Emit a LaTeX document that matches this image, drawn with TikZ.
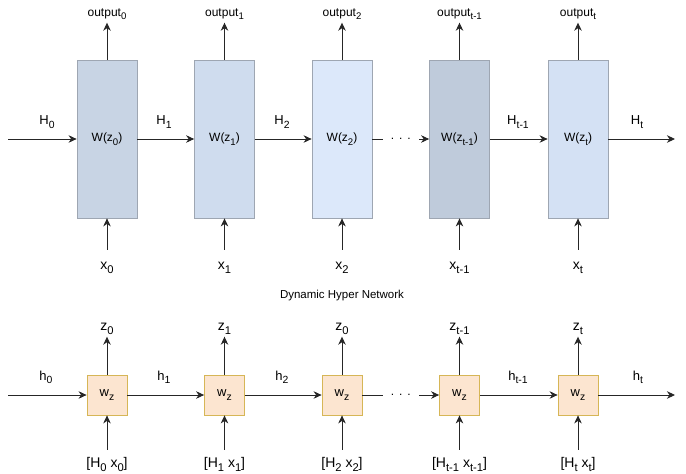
\documentclass[tikz,border=0pt]{standalone}
\usepackage{fontspec}
\setmainfont{Liberation Sans}
\usepackage{graphicx}
\usetikzlibrary{arrows.meta}
\definecolor{bA}{RGB}{200,212,228}
\definecolor{bB}{RGB}{207,220,238}
\definecolor{bC}{RGB}{220,232,250}
\definecolor{bD}{RGB}{191,203,219}
\definecolor{bE}{RGB}{212,225,244}
\definecolor{bordg}{RGB}{158,166,178}
\definecolor{yfill}{RGB}{252,229,208}
\definecolor{ybord}{RGB}{214,182,86}
\newcommand{\sbs}[1]{\raisebox{-0.3em}{\scalebox{0.8}{#1}}}
\newcommand{\fs}[1]{\fontsize{#1}{#1}\selectfont}
\newcommand{\dotstr}{.\hspace{5pt}.\hspace{5pt}.}
\begin{document}
\begin{tikzpicture}[x=1pt,y=-1pt,
  every node/.style={inner sep=0pt},
  bigbox/.style={draw=bordg, line width=0.8pt, minimum width=60pt, minimum height=158pt, font=\fs{12}},
  smallbox/.style={draw=ybord, fill=yfill, line width=0.8pt, minimum width=40pt, minimum height=40pt, font=\fs{13}},
  conn/.style={draw=black!85, line width=0.9pt, -{Stealth[length=8pt,width=7.5pt,inset=2.5pt]}},
  outlbl/.style={anchor=base, font=\fs{12}, text depth=3pt},
  inlbl/.style={anchor=base, font=\fs{14}, text height=8pt},
  Hlbl/.style={anchor=base, font=\fs{13}},
  zlbl/.style={anchor=base, font=\fs{14}, text depth=2pt},
  blbl/.style={anchor=base, font=\fs{14}, text height=10pt},
  gapdots/.style={fill=white, inner xsep=8pt, inner ysep=2pt, font=\fs{12}}]
\useasboundingbox (0,0) rectangle (686,474);

% ---------- top row ----------
\node[bigbox, fill=bA] (W0) at (107,139) {W(z\sbs{0})};
\node[bigbox, fill=bB] (W1) at (224.5,139) {W(z\sbs{1})};
\node[bigbox, fill=bC] (W2) at (342,139) {W(z\sbs{2})};
\node[bigbox, fill=bD] (W3) at (459.5,139) {W(z\sbs{t-1})};
\node[bigbox, fill=bE] (W4) at (578,139) {W(z\sbs{t})};

\coordinate (tin) at (8,139);
\coordinate (tout) at (675,139);
\draw[conn] (tin) -- (W0);
\draw[conn] (W0) -- (W1);
\draw[conn] (W1) -- (W2);
\draw[conn] (W2) -- node[gapdots] (d1) {\dotstr} (W3);
\draw[conn] (W3) -- (W4);
\draw[conn] (W4) -- (tout);

\node[Hlbl] (H0) at (47,124.5) {H\sbs{0}};
\node[Hlbl] (H1) at (164,124.5) {H\sbs{1}};
\node[Hlbl] (H2) at (282,124.5) {H\sbs{2}};
\node[Hlbl] (H3) at (518,124.5) {H\sbs{t-1}};
\node[Hlbl] (H4) at (637,124.5) {H\sbs{t}};

\node[outlbl] (o0) at (107,16) {output\sbs{0}};
\node[outlbl] (o1) at (224.5,16) {output\sbs{1}};
\node[outlbl] (o2) at (342,16) {output\sbs{2}};
\node[outlbl] (o3) at (459.5,16) {output\sbs{t-1}};
\node[outlbl] (o4) at (578,16) {output\sbs{t}};
\foreach \i in {0,...,4} {\draw[conn, shorten >=3.5pt] (W\i) -- (o\i);}

\node[inlbl] (x0) at (107,269) {x\sbs{0}};
\node[inlbl] (x1) at (224.5,269) {x\sbs{1}};
\node[inlbl] (x2) at (342,269) {x\sbs{2}};
\node[inlbl] (x3) at (459.5,269) {x\sbs{t-1}};
\node[inlbl] (x4) at (578,269) {x\sbs{t}};
\foreach \i in {0,...,4} {\draw[conn, shorten <=11pt] (x\i) -- (W\i);}

\node[font=\fs{11.5}] (title) at (342,296) {Dynamic Hyper Network};

% ---------- bottom row ----------
\node[smallbox] (w0) at (107,395) {w\sbs{z}};
\node[smallbox] (w1) at (224.5,395) {w\sbs{z}};
\node[smallbox] (w2) at (342,395) {w\sbs{z}};
\node[smallbox] (w3) at (459.5,395) {w\sbs{z}};
\node[smallbox] (w4) at (578,395) {w\sbs{z}};

\coordinate (bin) at (8,395);
\coordinate (bout) at (675,395);
\draw[conn] (bin) -- (w0);
\draw[conn] (w0) -- (w1);
\draw[conn] (w1) -- (w2);
\draw[conn] (w2) -- node[gapdots] (d2) {\dotstr} (w3);
\draw[conn] (w3) -- (w4);
\draw[conn] (w4) -- (bout);

\node[Hlbl] (h0) at (46,380) {h\sbs{0}};
\node[Hlbl] (h1) at (164,380) {h\sbs{1}};
\node[Hlbl] (h2) at (282,380) {h\sbs{2}};
\node[Hlbl] (h3) at (518,380) {h\sbs{t-1}};
\node[Hlbl] (h4) at (638,380) {h\sbs{t}};

\node[zlbl] (z0) at (107,330.5) {z\sbs{0}};
\node[zlbl] (z1) at (224.5,330.5) {z\sbs{1}};
\node[zlbl] (z2) at (342,330.5) {z\sbs{0}};
\node[zlbl] (z3) at (459.5,330.5) {z\sbs{t-1}};
\node[zlbl] (z4) at (578,330.5) {z\sbs{t}};
\foreach \i in {0,...,4} {\draw[conn, shorten >=4pt] (w\i) -- (z\i);}

\node[blbl] (i0) at (107,467) {[H\sbs{0} x\sbs{0}]};
\node[blbl] (i1) at (224.5,467) {[H\sbs{1} x\sbs{1}]};
\node[blbl] (i2) at (342,467) {[H\sbs{2} x\sbs{2}]};
\node[blbl] (i3) at (459.5,467) {[H\sbs{t-1} x\sbs{t-1}]};
\node[blbl] (i4) at (578,467) {[H\sbs{t} x\sbs{t}]};
\foreach \i in {0,...,4} {\draw[conn, shorten <=7pt] (i\i) -- (w\i);}
\end{tikzpicture}
\end{document}
